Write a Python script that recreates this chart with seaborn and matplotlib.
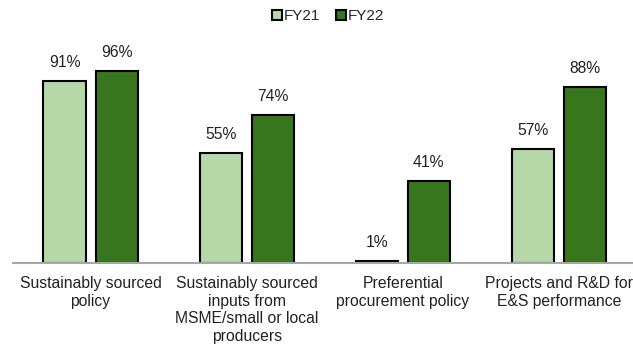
import matplotlib
matplotlib.use("Agg")
import matplotlib.pyplot as plt
import seaborn as sns
import pandas as pd

categories = ["Sustainably sourced\npolicy",
              "Sustainably sourced\ninputs from\nMSME/small or local\nproducers",
              "Preferential\nprocurement policy",
              "Projects and R&D for\nE&S performance"]
series_names = ["FY21", "FY22"]
fy21 = [91, 55, 1, 57]
fy22 = [96, 74, 41, 88]

df = pd.DataFrame({
    "category": categories * 2,
    "year": [series_names[0]] * 4 + [series_names[1]] * 4,
    "value": fy21 + fy22,
})

sns.set_theme(style="white")
plt.rcParams["font.family"] = ["Liberation Sans", "DejaVu Sans"]

fig = plt.figure(figsize=(6.33, 3.44), dpi=100)
ax = fig.add_axes([12.5 / 633, 81 / 344, 624.5 / 633, 200 / 344])

colors = {"FY21": "#b6d7a8", "FY22": "#38761d"}
sns.barplot(data=df, x="category", y="value", hue="year", order=categories,
            hue_order=series_names, palette=colors, width=0.667, gap=0.19,
            saturation=1, edgecolor="black", linewidth=1.5, ax=ax, legend=True)

for cont in ax.containers:
    ax.bar_label(cont, fmt="%d%%", padding=8, fontsize=11.3, color="#222222")

ax.set_xlim(-0.5, 3.5)
ax.set_ylim(0, 100)
ax.set_yticks([])
ax.set_xlabel("")
ax.set_ylabel("")
for s in ["top", "right", "left"]:
    ax.spines[s].set_visible(False)
ax.spines["bottom"].set_color("#a6a6a6")
ax.spines["bottom"].set_linewidth(1.5)
ax.tick_params(axis="x", length=0, pad=9.5, labelsize=11.3, labelcolor="#222222")
for lbl in ax.get_xticklabels():
    lbl.set_linespacing(1.22)

ax.legend(loc="center", bbox_to_anchor=(328 / 633, 1 - 16 / 344),
          bbox_transform=fig.transFigure, ncol=2, frameon=False,
          fontsize=11, handlelength=0.65, handleheight=0.65,
          handletextpad=0.15, columnspacing=1.0)

fig.savefig("out.png", dpi=100)
